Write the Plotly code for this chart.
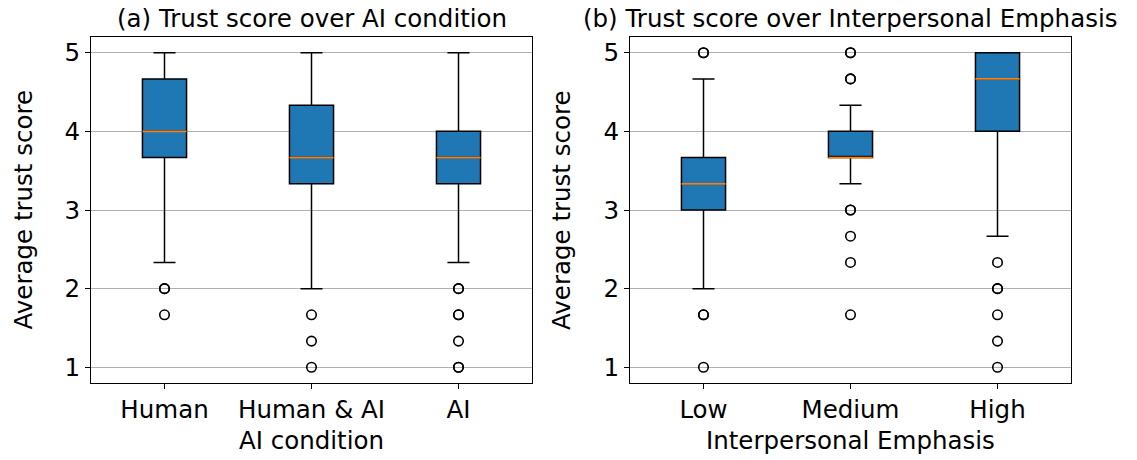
import plotly.graph_objects as go

# ---- data ----
cond_labels = ["Human", "Human & AI", "AI"]
cond_q1 = [3.667, 3.333, 3.333]
cond_median = [4.0, 3.667, 3.667]
cond_q3 = [4.667, 4.333, 4.0]
cond_low = [2.333, 2.0, 2.333]
cond_high = [5.0, 5.0, 5.0]
cond_outliers = [
    [2.0, 2.0, 1.667],
    [1.667, 1.333, 1.0],
    [2.0, 2.0, 1.667, 1.667, 1.333, 1.0, 1.0],
]

emph_labels = ["Low", "Medium", "High"]
emph_q1 = [3.0, 3.667, 4.0]
emph_median = [3.333, 3.667, 4.667]
emph_q3 = [3.667, 4.0, 5.0]
emph_low = [2.0, 3.333, 2.667]
emph_high = [4.667, 4.333, 5.0]
emph_outliers = [
    [5.0, 5.0, 1.667, 1.667, 1.0],
    [5.0, 5.0, 4.667, 4.667, 3.0, 3.0, 2.667, 2.333, 1.667],
    [2.333, 2.0, 2.0, 1.667, 1.333, 1.0],
]

y_ticks = [1, 2, 3, 4, 5]

# ---- style ----
W, H = 1137, 460
FONT = "DejaVu Sans"
FS = 24.5
BOX_W = 0.3
BLUE = "#1f77b4"
ORANGE = "#ff7f0e"

def px_x(p):
    return p / W

def px_y(p):
    return (H - p) / H

dom_left = [px_x(91), px_x(532)]
dom_right = [px_x(630), px_x(1071)]
dom_y = [px_y(383), px_y(37)]

fig = go.Figure()

panels = [
    ("x", "y", cond_labels, cond_q1, cond_median, cond_q3, cond_low, cond_high, cond_outliers),
    ("x2", "y2", emph_labels, emph_q1, emph_median, emph_q3, emph_low, emph_high, emph_outliers),
]

for xa, ya, labels, q1, med, q3, lo, hi, outs in panels:
    pos = list(range(1, len(labels) + 1))
    fig.add_trace(go.Box(
        x=pos, q1=q1, median=med, q3=q3, lowerfence=lo, upperfence=hi,
        width=BOX_W, whiskerwidth=0.5, fillcolor=BLUE,
        line=dict(color="black", width=1.5), boxpoints=False,
        xaxis=xa, yaxis=ya, showlegend=False, hoverinfo="skip",
    ))
    mx, my = [], []
    for p, m in zip(pos, med):
        mx += [p - BOX_W / 2, p + BOX_W / 2, None]
        my += [m, m, None]
    fig.add_trace(go.Scatter(
        x=mx, y=my, mode="lines", line=dict(color=ORANGE, width=1.8),
        xaxis=xa, yaxis=ya, showlegend=False, hoverinfo="skip",
    ))
    ox, oy = [], []
    for p, vals in zip(pos, outs):
        ox += [p] * len(vals)
        oy += vals
    fig.add_trace(go.Scatter(
        x=ox, y=oy, mode="markers",
        marker=dict(symbol="circle-open", size=9.5, color="black", line=dict(width=1.6)),
        xaxis=xa, yaxis=ya, showlegend=False, hoverinfo="skip",
    ))

axis_common = dict(
    showline=True, mirror=True, linecolor="black", linewidth=1.1,
    ticks="outside", ticklen=5, tickwidth=1.1, tickcolor="black",
    zeroline=False, tickfont=dict(family=FONT, size=FS, color="black"),
)

fig.update_layout(
    width=W, height=H,
    margin=dict(l=0, r=0, t=0, b=0),
    paper_bgcolor="white", plot_bgcolor="white",
    font=dict(family=FONT, size=FS, color="black"),
    xaxis=dict(domain=dom_left, range=[0.5, 3.5], tickvals=[1, 2, 3], ticktext=cond_labels,
               showgrid=False, anchor="y", **axis_common),
    yaxis=dict(domain=dom_y, range=[0.8, 5.2], tickvals=y_ticks, showgrid=True,
               gridcolor="#b0b0b0", gridwidth=1.1, anchor="x", **axis_common),
    xaxis2=dict(domain=dom_right, range=[0.5, 3.5], tickvals=[1, 2, 3], ticktext=emph_labels,
                showgrid=False, anchor="y2", **axis_common),
    yaxis2=dict(domain=dom_y, range=[0.8, 5.2], tickvals=y_ticks, showgrid=True,
                gridcolor="#b0b0b0", gridwidth=1.1, anchor="x2", **axis_common),
)

def ann(text, xpx, ypx, angle=0):
    fig.add_annotation(
        text=text, x=px_x(xpx), y=px_y(ypx), xref="paper", yref="paper",
        xanchor="center", yanchor="middle", showarrow=False, textangle=angle,
        font=dict(family=FONT, size=FS, color="black"),
    )

ann("(a) Trust score over AI condition", 311.5, 19)
ann("(b) Trust score over Interpersonal Emphasis", 850.5, 19)
ann("AI condition", 311.5, 440)
ann("Interpersonal Emphasis", 850.5, 440)
ann("Average trust score", 22.5, 210, -90)
ann("Average trust score", 561, 210, -90)

fig.write_html(
    "out.html",
    config={"displayModeBar": False},
    post_script="document.body.style.margin='0';document.body.style.overflow='hidden';",
)
